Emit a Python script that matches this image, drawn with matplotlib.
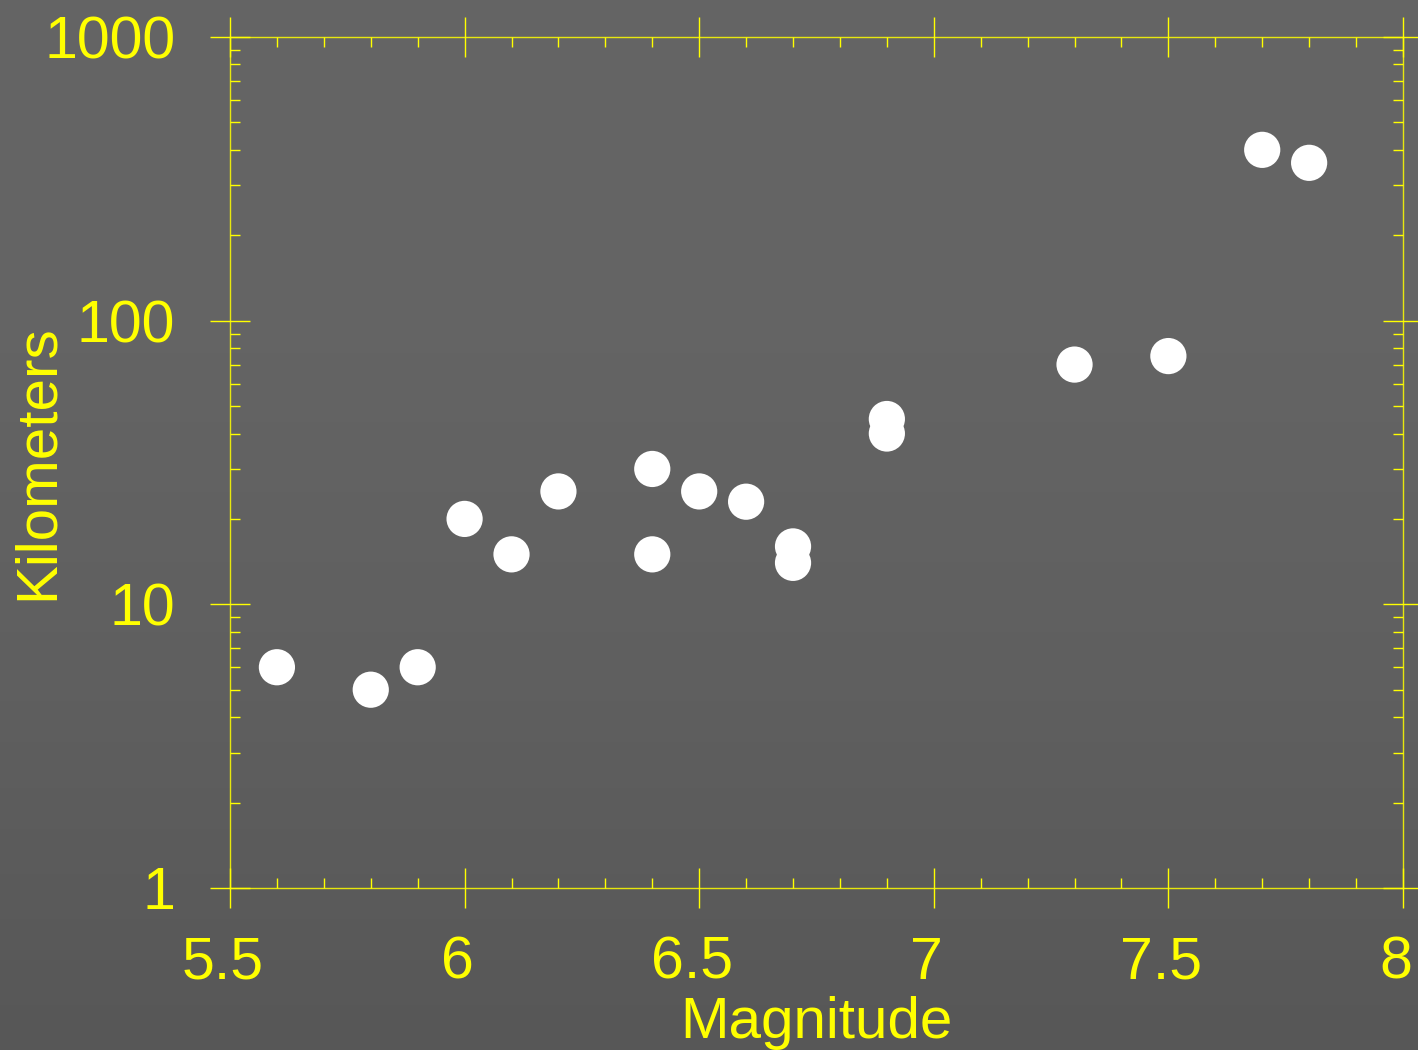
import numpy as np
import matplotlib.pyplot as plt
import matplotlib.transforms as mtransforms
from matplotlib.colors import LinearSegmentedColormap
from matplotlib.ticker import FixedLocator, LogLocator, NullFormatter

# earthquake magnitude vs. rupture length
magnitude = [5.6, 5.8, 5.9, 6.0, 6.1, 6.2, 6.4, 6.4, 6.5, 6.6,
             6.7, 6.7, 6.9, 6.9, 7.3, 7.5, 7.7, 7.8]
kilometers = [6, 5, 6, 20, 15, 25, 30, 15, 25, 23,
              16, 14, 45, 40, 70, 75, 400, 360]

x_ticks = [5.5, 6, 6.5, 7, 7.5, 8]
x_tick_labels = ["5.5", "6", "6.5", "7", "7.5", "8"]
y_ticks = [1, 10, 100, 1000]
y_tick_labels = ["1", "10", "100", "1000"]

YELLOW = "#ffff00"

plt.rcParams['font.family'] = ['Liberation Sans', 'DejaVu Sans']

fig = plt.figure(figsize=(14.18, 10.5), dpi=100)

# grey gradient background, darker towards the bottom
bg = fig.add_axes([0, 0, 1, 1], zorder=-10)
cmap = LinearSegmentedColormap.from_list("bg", ["#575757", "#5f5f5f", "#646464", "#646464"])
grad = np.linspace(0, 1, 256).reshape(-1, 1)
bg.imshow(grad, aspect="auto", cmap=cmap, origin="lower", extent=[0, 1, 0, 1])
bg.axis("off")

ax = fig.add_axes([0.1622, 0.1543, 0.8272, 0.8105])
ax.patch.set_alpha(0)

ax.scatter(magnitude, kilometers, s=680, color="white", edgecolors="none", zorder=3)

ax.set_yscale("log")
ax.set_xlim(5.5, 8)
ax.set_ylim(1, 1000)

ax.xaxis.set_major_locator(FixedLocator(x_ticks))
ax.set_xticklabels(x_tick_labels)
ax.xaxis.set_minor_locator(FixedLocator(np.arange(5.5, 8.001, 0.1)))
ax.yaxis.set_major_locator(FixedLocator(y_ticks))
ax.set_yticklabels(y_tick_labels)
ax.yaxis.set_minor_locator(LogLocator(base=10, subs=np.arange(2, 10)))
ax.yaxis.set_minor_formatter(NullFormatter())

for s in ax.spines.values():
    s.set_color(YELLOW)
    s.set_linewidth(1.0)
    s.set_alpha(0.85)

ax.tick_params(which="major", direction="inout", length=29, width=1.0,
               colors=YELLOW, labelsize=42.5, top=True, right=True)
ax.tick_params(which="minor", direction="in", length=7.5, width=1.0,
               colors=YELLOW, top=True, right=True)
ax.tick_params(axis="x", which="major", pad=20)
ax.tick_params(axis="y", which="major", pad=25)

# x tick labels sit a little left of their ticks
shift = mtransforms.ScaledTranslation(-5 / 72, 0, fig.dpi_scale_trans)
for t in ax.get_xticklabels():
    t.set_transform(t.get_transform() + shift)
for t in ax.get_xticklabels() + ax.get_yticklabels():
    t.set_color(YELLOW)

ax.set_xlabel("Magnitude", color=YELLOW, fontsize=42, labelpad=4)
ax.set_ylabel("Kilometers", color=YELLOW, fontsize=42, labelpad=-15)

fig.savefig("out.png", dpi=100)
